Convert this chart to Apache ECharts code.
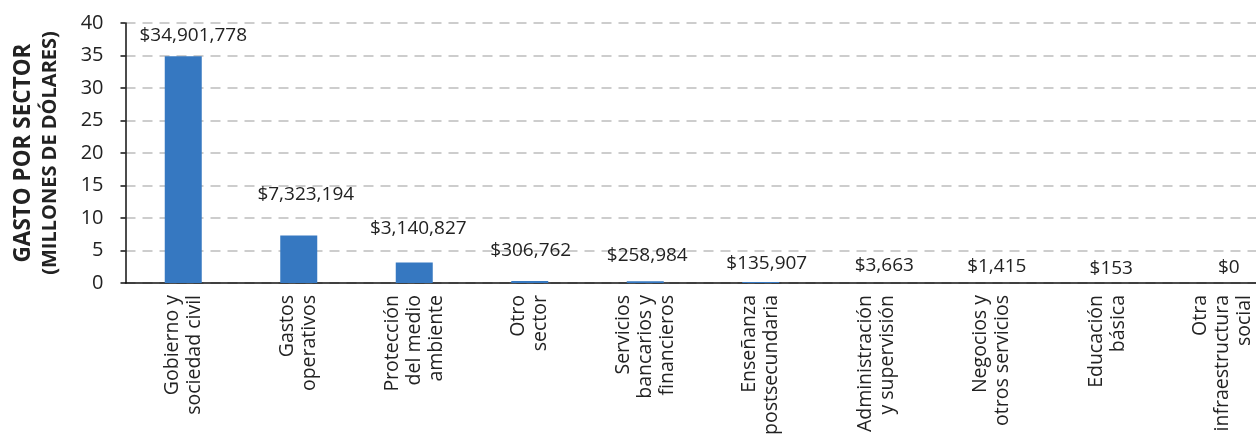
<!DOCTYPE html>
<html>
<head>
<meta charset="utf-8">
<script src="https://cdn.jsdelivr.net/npm/echarts@6/dist/echarts.min.js"></script>
<style>
  html, body { margin: 0; padding: 0; background: #ffffff; }
  #chart { width: 1256px; height: 437px; }
</style>
</head>
<body>
<div id="chart"></div>
<script>
// Spending by sector, in US dollars
const sectors = [
  'Gobierno y\nsociedad civil',
  'Gastos\noperativos',
  'Protección\ndel medio\nambiente',
  'Otro\nsector',
  'Servicios\nbancarios y\nfinancieros',
  'Enseñanza\npostsecundaria',
  'Administración\ny supervisión',
  'Negocios y\notros servicios',
  'Educación\nbásica',
  'Otra\ninfraestructura\nsocial'
];
const spendUSD = [34901778, 7323194, 3140827, 306762, 258984, 135907, 3663, 1415, 153, 0];
const yTicks = [0, 5, 10, 15, 20, 25, 30, 35, 40];

// Value-label placement: gap above each bar top and sideways nudge (px)
const labelGap = [11, 31, 24, 21, 16.5, 9, 8, 7, 5, 6];
const labelNudge = [10, 7, 4, 1, 2, 6, 8, 5, 4, 6];

const FONT = '"Open Sans", Lato, sans-serif';
const INK = '#222222';
const BAR = '#3678c1';

const fmtUSD = v => '$' + Math.round(v).toLocaleString('en-US');

const chart = echarts.init(document.getElementById('chart'), null, { renderer: 'canvas' });

chart.setOption({
  backgroundColor: '#ffffff',
  animation: false,
  textStyle: { fontFamily: FONT },
  // the category axis runs past the right edge, so the last column is cut off
  grid: {
    left: 125.5, width: 1155, top: 23, bottom: 154,
    containLabel: false,
    outerBoundsMode: 'none'
  },
  xAxis: {
    type: 'category',
    data: sectors,
    axisLine: { show: true, lineStyle: { color: '#111111', width: 1.5 } },
    axisTick: { show: false },
    axisLabel: {
      interval: 0,
      rotate: 90,
      margin: 12,
      fontFamily: FONT,
      fontSize: 19.5,
      lineHeight: 22,
      color: INK
    }
  },
  yAxis: {
    type: 'value',
    min: yTicks[0],
    max: yTicks[yTicks.length - 1],
    interval: yTicks[1] - yTicks[0],
    name: '{a|GASTO POR SECTOR}\n{b|(MILLONES DE DÓLARES)}',
    nameLocation: 'middle',
    nameRotate: 90,
    nameGap: 62,
    nameTextStyle: {
      fontFamily: FONT,
      color: INK,
      rich: {
        a: { fontFamily: FONT, fontSize: 22.5, fontWeight: 'bold', lineHeight: 27, color: INK },
        b: { fontFamily: FONT, fontSize: 20, fontWeight: 'bold', lineHeight: 26, color: INK }
      }
    },
    axisLine: { show: true, lineStyle: { color: '#111111', width: 1.5 } },
    axisTick: { show: true, inside: false, length: 5, lineStyle: { color: '#111111', width: 1.5 } },
    axisLabel: {
      margin: 22,
      fontFamily: FONT,
      fontSize: 20,
      color: INK,
      formatter: v => (yTicks.includes(v) ? String(v) : '')
    },
    splitLine: {
      show: true,
      lineStyle: { color: '#bdbdbd', width: 1.5, type: [10, 7] }
    }
  },
  series: [{
    type: 'bar',
    barWidth: 37,
    itemStyle: { color: BAR },
    data: spendUSD.map((usd, i) => ({
      value: usd / 1e6,
      label: { distance: labelGap[i], offset: [labelNudge[i], 0] }
    })),
    label: {
      show: true,
      position: 'top',
      fontFamily: FONT,
      fontSize: 19,
      color: INK,
      formatter: p => fmtUSD(spendUSD[p.dataIndex])
    }
  }]
});
</script>
</body>
</html>
